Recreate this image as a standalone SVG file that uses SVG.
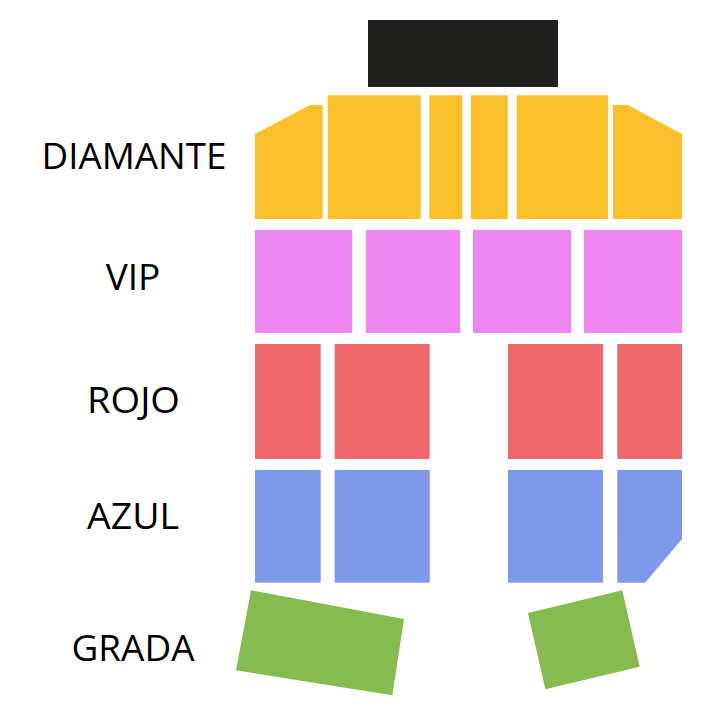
<svg xmlns="http://www.w3.org/2000/svg" width="720" height="720" viewBox="0 0 720 720">
<style>
.lbl{font-family:"Open Sans","Liberation Sans",sans-serif;font-size:37px;fill:#000;text-anchor:middle}
.dia{fill:#FBBF2A}.vip{fill:#EF85F1}.rojo{fill:#EF686B}.azul{fill:#7F99EA}.grada{fill:#86BC4F}
</style>
<rect width="720" height="720" fill="#fff"/>
<g id="escenario"><rect x="368" y="20" width="190" height="67" fill="#1F1F1E"/></g>
<g id="diamante">
<polygon class="dia" points="255,134 310,105 322.7,105 322.7,219 255,219"/>
<rect class="dia" x="327.7" y="95.3" width="93" height="123.7"/>
<rect class="dia" x="429.3" y="95.3" width="33" height="123.7"/>
<rect class="dia" x="471" y="95.3" width="36.7" height="123.7"/>
<rect class="dia" x="516.7" y="95.3" width="91.3" height="123.7"/>
<polygon class="dia" points="613,105 627.7,105 682,134 682,219 613,219"/>
</g>
<g id="vip">
<rect class="vip" x="255" y="230" width="97" height="103"/>
<rect class="vip" x="366" y="230" width="94" height="103"/>
<rect class="vip" x="473" y="230" width="98" height="103"/>
<rect class="vip" x="584" y="230" width="98" height="103"/>
</g>
<g id="rojo">
<rect class="rojo" x="255" y="344" width="65.7" height="115"/>
<rect class="rojo" x="334.7" y="344" width="95" height="115"/>
<rect class="rojo" x="508" y="344" width="95" height="115"/>
<rect class="rojo" x="617.3" y="344" width="64.7" height="115"/>
</g>
<g id="azul">
<rect class="azul" x="255" y="470" width="65.7" height="112.7"/>
<rect class="azul" x="334.7" y="470" width="95" height="112.7"/>
<rect class="azul" x="508" y="470" width="95" height="112.7"/>
<polygon class="azul" points="617.3,470 682,470 682,539 645,582.7 617.3,582.7"/>
</g>
<g id="grada">
<polygon class="grada" points="251,590.3 404,619 392.3,695.3 236,670.3"/>
<polygon class="grada" points="528,613 622.3,590.3 639.7,666.7 545.3,689.3"/>
</g>
<g id="labels">
<text class="lbl" x="134" y="169" textLength="185" lengthAdjust="spacingAndGlyphs">DIAMANTE</text>
<text class="lbl" x="133" y="290">VIP</text>
<text class="lbl" x="133.5" y="413" textLength="93" lengthAdjust="spacingAndGlyphs">ROJO</text>
<text class="lbl" x="133" y="529" textLength="92" lengthAdjust="spacingAndGlyphs">AZUL</text>
<text class="lbl" x="133" y="661" textLength="123" lengthAdjust="spacingAndGlyphs">GRADA</text>
</g>
</svg>
